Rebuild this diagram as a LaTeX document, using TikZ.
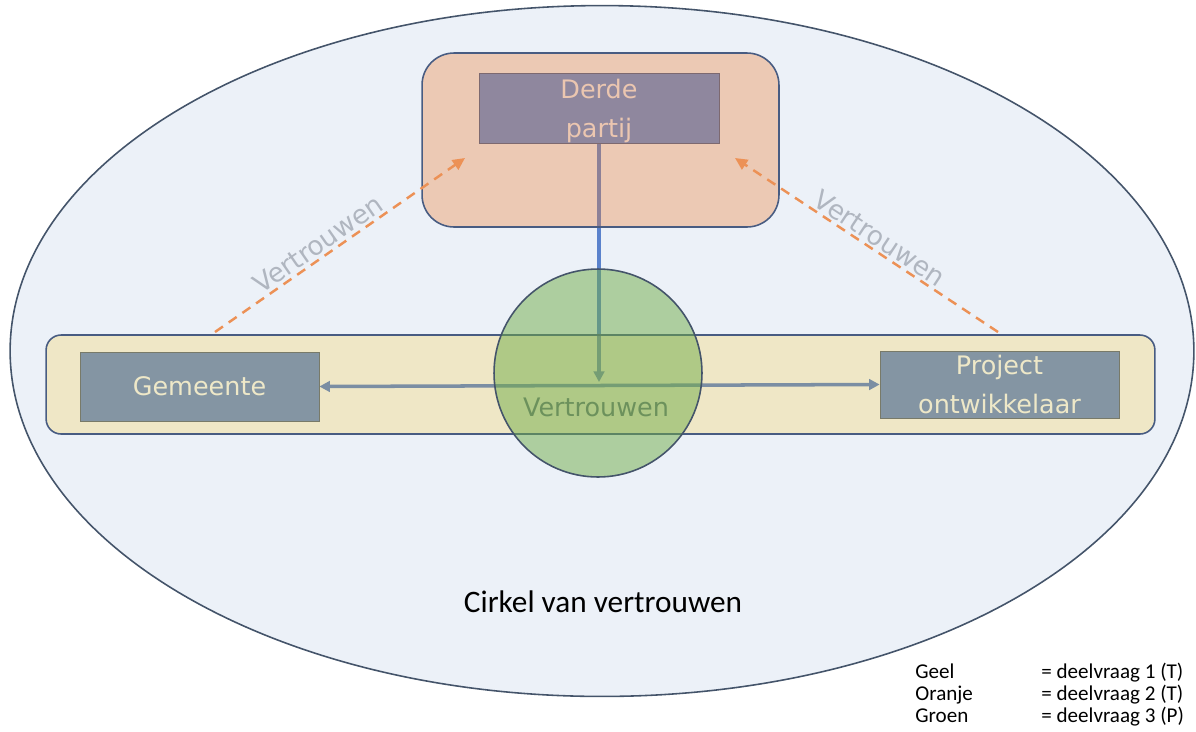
\documentclass[tikz,border=0pt]{standalone}
\usepackage{fontspec}
\setmainfont{DejaVu Sans}
\newfontfamily\calibri{Carlito}
\usetikzlibrary{shapes.geometric,arrows.meta}

\definecolor{bgblue}{RGB}{236,241,248}
\definecolor{rand}{RGB}{68,84,106}
\definecolor{kaderrand}{RGB}{72,92,130}
\definecolor{oranje}{RGB}{237,125,49}
\definecolor{geel}{RGB}{255,192,0}
\definecolor{groen}{RGB}{112,173,71}
\definecolor{derdefill}{RGB}{143,135,158}
\definecolor{derderand}{RGB}{125,105,112}
\definecolor{derdetekst}{RGB}{235,198,176}
\definecolor{actorfill}{RGB}{132,149,163}
\definecolor{actorrand}{RGB}{120,122,105}
\definecolor{actortekst}{RGB}{238,232,200}
\definecolor{kringtekst}{RGB}{108,145,92}
\definecolor{lijnblauw}{RGB}{90,130,204}
\definecolor{trustoranje}{RGB}{236,145,86}
\definecolor{labelgrijs}{RGB}{176,182,192}

\pgfdeclarelayer{ground}
\pgfdeclarelayer{links}
\pgfsetlayers{ground,links,main}

\tikzset{
  actor/.style={draw=actorrand, fill=actorfill, text=actortekst, minimum width=4.78cm, minimum height=1.38cm, align=center, inner sep=0pt, font=\fontsize{14.5}{22}\selectfont},
  link/.style={draw=lijnblauw, line width=2pt},
  trust/.style={draw=trustoranje, line width=1.4pt, dash pattern=on 5.5pt off 4pt, -{Triangle[length=7pt,width=6.5pt]}},
  trustlabel/.style={text=labelgrijs, inner sep=0pt, font=\fontsize{15}{18}\selectfont},
  legend/.style={anchor=base west, inner sep=0pt, font=\calibri\fontsize{12}{14}\selectfont}
}

\begin{document}
\begin{tikzpicture}[x=0.02cm, y=-0.02cm]
\useasboundingbox (0,0) rectangle (1196,731);

\begin{pgfonlayer}{ground}
\node [draw=rand, fill=bgblue, ellipse, line width=0.9pt, minimum width=23.68cm, minimum height=13.82cm, inner sep=0pt] (cirkel) at (602,351) {};
\end{pgfonlayer}

% derde partij
\node [draw=kaderrand, fill=oranje, fill opacity=0.34, rounded corners=0.64cm, line width=0.9pt, minimum width=7.14cm, minimum height=3.48cm] (kader) at (600.5,140) {};
\node [draw=derderand, fill=derdefill, text=derdetekst, minimum width=4.8cm, minimum height=1.4cm, align=center, inner sep=0pt, font=\fontsize{14.5}{22.5}\selectfont] (derde) at (599,108) {};
\node [text=derdetekst, align=center, inner sep=0pt, font=\fontsize{14.5}{22.5}\selectfont] (derdetxt) at (599,111) {Derde\\partij};

% gemeente en ontwikkelaar
\node [draw=kaderrand, fill=geel, fill opacity=0.2, rounded corners=0.3cm, line width=0.9pt, minimum width=22.18cm, minimum height=1.98cm] (band) at (600.5,384.5) {};
\node [actor] (gemeente) at (199.5,386.5) {Gemeente};
\node [actor, minimum height=1.34cm] (project) at (999.5,384.5) {Project\\ontwikkelaar};

% vertrouwen
\node [circle, draw=rand, fill=groen, fill opacity=0.5, line width=0.9pt, minimum size=4.16cm, inner sep=0pt] (kring) at (598,373) {};
\node [anchor=base, text=kringtekst, inner sep=0pt, font=\fontsize{14.5}{18}\selectfont] (kringlabel) at (596,416) {Vertrouwen};

\coordinate (raak) at (599,382);
\begin{pgfonlayer}{links}
\draw [link, -{Triangle[length=6pt,width=6pt]}] (derde.south) -- (raak);
\draw [link, {Triangle[length=6pt,width=6pt]}-{Triangle[length=6pt,width=6pt]}] (gemeente.east) -- (project.west);
\end{pgfonlayer}

\coordinate (linksvoet) at (215,332);
\coordinate (linkspunt) at (465,158);
\coordinate (rechtsvoet) at (998,332);
\coordinate (rechtspunt) at (735,158);
\draw [trust] (linksvoet) -- (linkspunt);
\draw [trust] (rechtsvoet) -- (rechtspunt);
\node [trustlabel, rotate=34.8] (vlinks) at (318,244) {Vertrouwen};
\node [trustlabel, rotate=-33.5] (vrechts) at (880,238) {Vertrouwen};

\node [anchor=base, inner sep=0pt, font=\calibri\fontsize{17.8}{20}\selectfont] (titel) at (603,612) {Cirkel van vertrouwen};

% legenda
\node [legend] (geel) at (915,678) {Geel};
\node [legend] (geelv) at (1041,678) {= deelvraag 1 (T)};
\node [legend] (oranje) at (915,700) {Oranje};
\node [legend] (oranjev) at (1041,700) {= deelvraag 2 (T)};
\node [legend] (groen) at (915,722) {Groen};
\node [legend] (groenv) at (1041,722) {= deelvraag 3 (P)};
\end{tikzpicture}
\end{document}
